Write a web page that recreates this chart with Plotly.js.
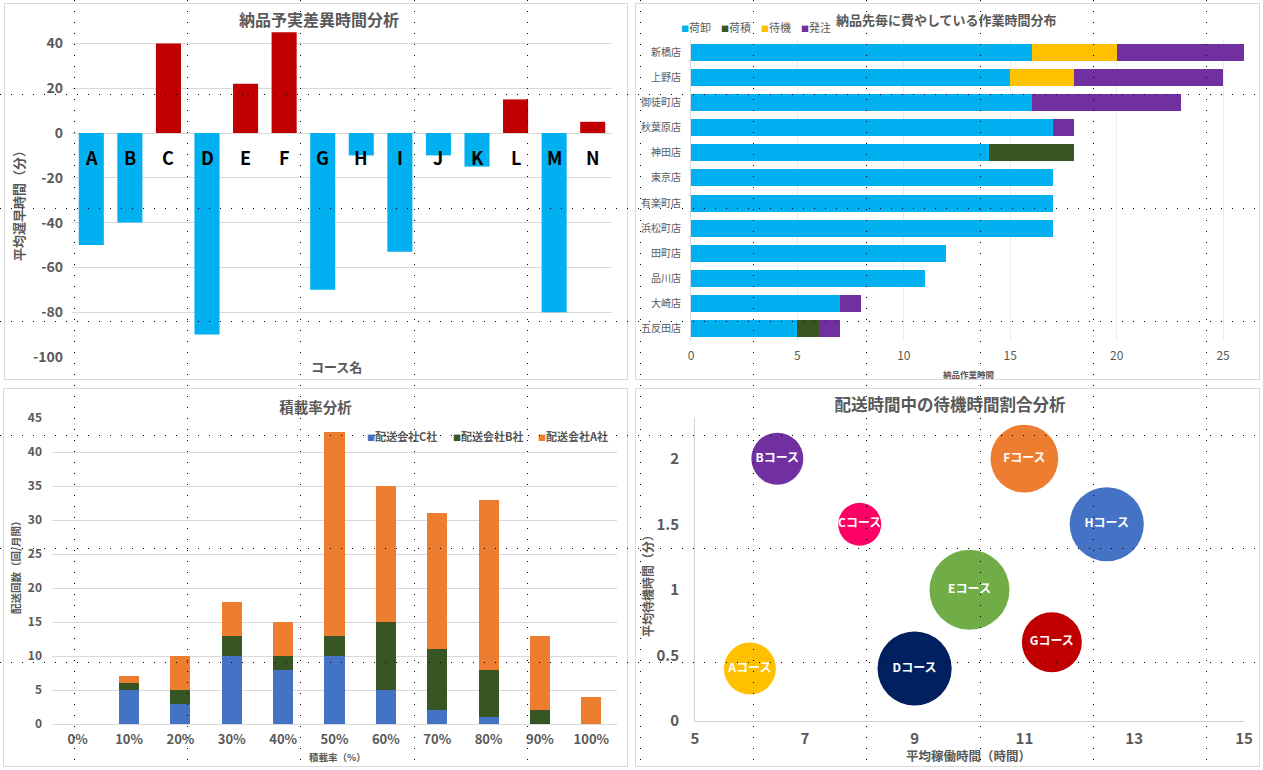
<!DOCTYPE html>
<html><head><meta charset="utf-8">
<script src="https://cdn.plot.ly/plotly-3.0.1.min.js"></script>
<style>
html,body{margin:0;padding:0;background:#fff;width:1263px;height:770px;overflow:hidden;}
.panel{position:absolute;border:1px solid #D9D9D9;}
.dv{position:absolute;top:0;width:1px;height:770px;background:repeating-linear-gradient(to bottom,#000 0 1px,transparent 1px 11px);pointer-events:none;}
.dh{position:absolute;left:0;height:1px;width:1263px;background:repeating-linear-gradient(to right,#000 0 1px,transparent 1px 11px);pointer-events:none;}
</style></head><body>
<div id="c1" class="panel" style="left:4px;top:3px;width:622px;height:375px"></div>
<div id="c2" class="panel" style="left:635px;top:3px;width:623px;height:375px"></div>
<div id="c3" class="panel" style="left:3px;top:388px;width:623px;height:377px"></div>
<div id="c4" class="panel" style="left:635px;top:388px;width:623px;height:377px"></div>
<div id="dots"></div>
<script>
// ---------- data ----------
const courseNames = ['A','B','C','D','E','F','G','H','I','J','K','L','M','N'];
const delayMinutes = [-50,-40,40,-90,22,45,-70,-10,-53,-10,-15,15,-80,5];
const delayTicks = [-100,-80,-60,-40,-20,0,20,40];

const stores = ['新橋店','上野店','御徒町店','秋葉原店','神田店','東京店','有楽町店','浜松町店','田町店','品川店','大崎店','五反田店'];
const taskNames = ['荷卸','荷積','待機','発注'];
const unloadHours = [16,15,16,17,14,17,17,17,12,11,7,5];
const loadHours   = [0,0,0,0,4,0,0,0,0,0,0,1];
const waitHours   = [4,3,0,0,0,0,0,0,0,0,0,0];
const orderHours  = [6,7,7,1,0,0,0,0,0,0,1,1];

const loadRates = ['0%','10%','20%','30%','40%','50%','60%','70%','80%','90%','100%'];
const companyNames = ['配送会社C社','配送会社B社','配送会社A社'];
const companyC = [0,5,3,10,8,10,5,2,1,0,0];
const companyB = [0,1,2,3,2,3,10,9,7,2,0];
const companyA = [0,1,5,5,5,30,20,20,25,11,4];

const bubbleCourses = ['A','B','C','D','E','F','G','H'];
const avgWorkHours = [6,6.5,8,9,10,11,11.5,12.5];
const avgWaitMinutes = [0.4,2,1.5,0.4,1,2,0.6,1.5];
const bubbleSize = [2.7,2.7,1.85,5.5,6.4,4.6,3.6,5.5];

// ---------- styling ----------
const FF = "'Noto Sans CJK JP','Noto Sans',sans-serif";
const GRAY = '#595959';
const cfg = {displayModeBar:false, staticPlot:true};
function mapper(W,H,m){return {x:px=>(px-m.l)/(W-m.l-m.r), y:py=>1-(py-m.t)/(H-m.t-m.b)};}
function note(M,px,py,text,font,extra){return Object.assign({xref:'paper',yref:'paper',x:M.x(px),y:M.y(py),text:text,showarrow:false,
  xanchor:'center',yanchor:'middle',font:font},extra||{});}

// ---------- chart 1 ----------
(function(){
  const W=622,H=375,m={l:67,r:15,t:17,b:22}; const M=mapper(W,H,m);
  const colors = delayMinutes.map(v=>v<0?'#00B0F0':'#C00000');
  const ann = courseNames.map(c=>({x:c,y:0,xref:'x',yref:'y',text:c,showarrow:false,yshift:-24,yanchor:'middle',
     font:{family:FF,size:18,color:'#000',weight:'bold'}}));
  ann.push(note(M,13,199,'平均遅早時間（分）',{family:FF,size:13,color:GRAY,weight:'bold'},{textangle:-90}));
  ann.push(note(M,331,363,'コース名',{family:FF,size:13,color:GRAY,weight:'bold'}));
  Plotly.newPlot('c1',[{type:'bar',x:courseNames,y:delayMinutes,marker:{color:colors},hoverinfo:'skip'}],{
    width:W,height:H,margin:m,paper_bgcolor:'#fff',plot_bgcolor:'#fff',showlegend:false,bargap:0.35,
    title:{text:'納品予実差異時間分析',x:0.505,xref:'container',y:1-16/H,yref:'container',yanchor:'middle',
      font:{family:FF,size:16,color:GRAY,weight:'bold'}},
    xaxis:{type:'category',showticklabels:false,ticks:'',showgrid:false,zeroline:false,showline:false},
    yaxis:{range:[-100,50],tickmode:'array',tickvals:delayTicks,ticktext:delayTicks.map(String),gridcolor:'#D9D9D9',
      zeroline:true,zerolinecolor:'#D9D9D9',zerolinewidth:1,
      showline:false,ticklabelstandoff:8,tickfont:{family:FF,size:14,color:GRAY,weight:'bold'}},
    annotations:ann
  },cfg);
})();

// ---------- chart 2 ----------
(function(){
  const W=623,H=375,m={l:55,r:4,t:36,b:38}; const M=mapper(W,H,m);
  const series=[unloadHours,loadHours,waitHours,orderHours];
  const cols=['#00B0F0','#375623','#FFC000','#7030A0'];
  const traces=series.map((s,i)=>({type:'bar',orientation:'h',name:taskNames[i],y:stores,x:s,marker:{color:cols[i]},hoverinfo:'skip'}));
  const ann=taskNames.map((n,i)=>note(M,43+i*40,23,'<span style="color:'+cols[i]+';font-size:8px">■</span>'+n,
     {family:FF,size:11,color:GRAY},{xanchor:'left'}));
  ann.push(note(M,332,370,'納品作業時間',{family:FF,size:8.5,color:GRAY,weight:'bold'}));
  Plotly.newPlot('c2',traces,{
    width:W,height:H,margin:m,paper_bgcolor:'#fff',plot_bgcolor:'#fff',showlegend:false,barmode:'stack',bargap:0.32,
    title:{text:'納品先毎に費やしている作業時間分布',x:0.498,xref:'container',y:1-16/H,yref:'container',yanchor:'middle',
      font:{family:FF,size:13,color:GRAY,weight:'bold'}},
    xaxis:{range:[0,26.5],dtick:5,tick0:0,gridcolor:'#EBEBEB',zeroline:false,showline:false,ticklabelstandoff:6,
      tickfont:{family:FF,size:12,color:GRAY}},
    yaxis:{type:'category',autorange:'reversed',showgrid:false,showline:true,linecolor:'#D9D9D9',ticklabelstandoff:7,
      tickfont:{family:FF,size:10,color:GRAY}},
    annotations:ann
  },cfg);
})();

// ---------- chart 3 ----------
(function(){
  const W=623,H=377,m={l:48,r:10,t:29,b:42}; const M=mapper(W,H,m);
  const series=[companyC,companyB,companyA];
  const cols=['#4472C4','#375623','#ED7D31'];
  const traces=series.map((s,i)=>({type:'bar',name:companyNames[i],x:loadRates,y:s,marker:{color:cols[i]},hoverinfo:'skip'}));
  const ann=companyNames.map((n,i)=>note(M,361+i*85.5,47,'<span style="color:'+cols[i]+';font-size:8px">■</span>'+n,
     {family:FF,size:11,color:GRAY,weight:'bold'},{xanchor:'left'}));
  ann.push(note(M,11,176,'配送回数（回/月間）',{family:FF,size:10.5,color:GRAY,weight:'bold'},{textangle:-90}));
  ann.push(note(M,333,368,'積載率（%）',{family:FF,size:9.5,color:GRAY,weight:'bold'}));
  Plotly.newPlot('c3',traces,{
    width:W,height:H,margin:m,paper_bgcolor:'#fff',plot_bgcolor:'#fff',showlegend:false,barmode:'stack',bargap:0.61,
    title:{text:'積載率分析',x:0.5,xref:'container',y:1-19/H,yref:'container',yanchor:'middle',
      font:{family:FF,size:14.5,color:GRAY,weight:'bold'}},
    xaxis:{type:'category',showgrid:false,zeroline:false,showline:false,ticklabelstandoff:6,tickfont:{family:FF,size:13,color:GRAY,weight:'bold'}},
    yaxis:{range:[0,45],dtick:5,tick0:0,gridcolor:'#D9D9D9',zeroline:true,zerolinecolor:'#D9D9D9',showline:false,
      ticklabelstandoff:9,tickfont:{family:FF,size:12,color:GRAY,weight:'bold'}},
    annotations:ann
  },cfg);
})();

// ---------- chart 4 ----------
(function(){
  const W=623,H=377,m={l:59,r:15,t:29,b:45}; const M=mapper(W,H,m);
  const cols=['#FFC000','#7030A0','#FF0066','#002060','#70AD47','#ED7D31','#C00000','#4472C4'];
  const ann=[
    note(M,332,366,'平均稼働時間（時間）',{family:FF,size:12.5,color:GRAY,weight:'bold'}),
    note(M,11,194,'平均待機時間（分）',{family:FF,size:12,color:GRAY,weight:'bold'},{textangle:-90})
  ];
  Plotly.newPlot('c4',[{type:'scatter',mode:'markers+text',x:avgWorkHours,y:avgWaitMinutes,
      text:bubbleCourses.map(c=>c+'コース'),textposition:'middle center',
      textfont:{family:FF,size:12,color:'#fff',weight:'bold'},
      marker:{size:bubbleSize,sizemode:'area',sizeref:0.002,color:cols,opacity:1,line:{width:0}},hoverinfo:'skip',cliponaxis:false}],{
    width:W,height:H,margin:m,paper_bgcolor:'#fff',plot_bgcolor:'#fff',showlegend:false,
    title:{text:'配送時間中の待機時間割合分析',x:0.504,xref:'container',y:1-16/H,yref:'container',yanchor:'middle',
      font:{family:FF,size:16.5,color:GRAY,weight:'bold'}},
    xaxis:{range:[5,15],dtick:2,tick0:5,showgrid:false,zeroline:false,showline:true,linecolor:'#D0D0D0',
      ticklabelstandoff:4,tickfont:{family:FF,size:15,color:GRAY,weight:'bold'}},
    yaxis:{range:[0,2.31],dtick:0.5,tick0:0,showgrid:false,zeroline:false,showline:true,linecolor:'#D0D0D0',
      ticklabelstandoff:12,tickfont:{family:FF,size:15,color:GRAY,weight:'bold'}},
    annotations:ann
  },cfg);
})();

// ---------- page dotted overlay ----------
(function(){
  const d=document.getElementById('dots');
  for(let k=0;k<11;k++){const e=document.createElement('div');e.className='dv';e.style.left=Math.round(74+113.2*k)+'px';d.appendChild(e);}
  for(let k=0;k<6;k++){const e=document.createElement('div');e.className='dh';e.style.top=Math.round(94+113.5*k)+'px';d.appendChild(e);}
})();
</script>
</body></html>
